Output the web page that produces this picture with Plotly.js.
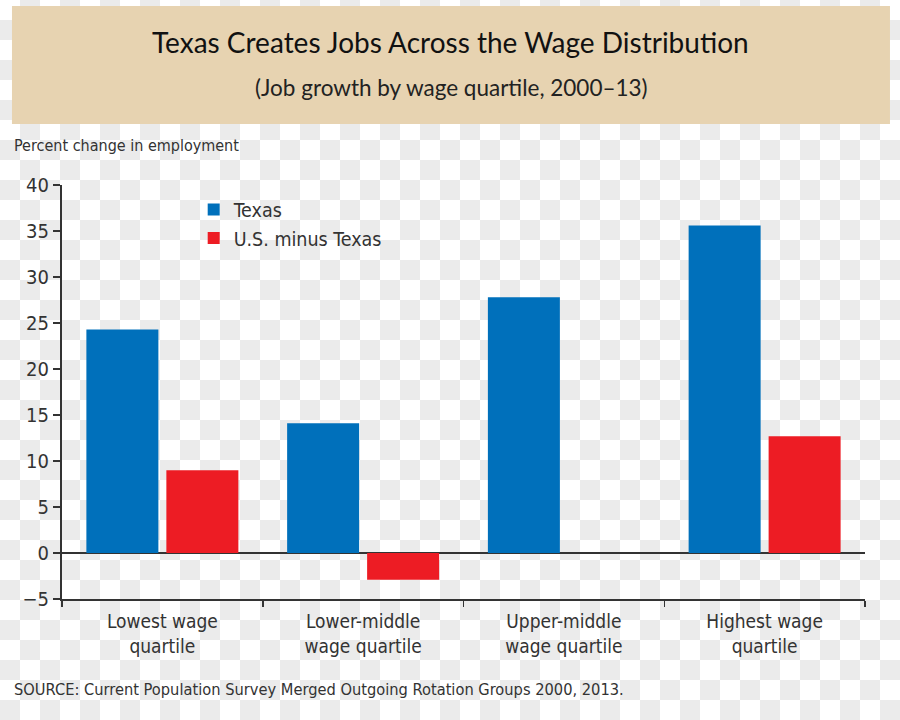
<!DOCTYPE html>
<html>
<head>
<meta charset="utf-8">
<script src="https://cdn.plot.ly/plotly-3.0.1.min.js"></script>
<style>
  html, body { margin: 0; padding: 0; }
  body {
    width: 900px; height: 720px;
    background: repeating-conic-gradient(#ebebeb 0% 25%, #ffffff 0% 50%) 0 0 / 40px 40px;
  }
  #chart { width: 900px; height: 720px; }
</style>
</head>
<body>
<div id="chart"></div>
<script>
// ---- data ----
const categories = ["Lowest wage quartile", "Lower-middle wage quartile", "Upper-middle wage quartile", "Highest wage quartile"];
const categoryLabels = ["Lowest wage<br>quartile", "Lower-middle<br>wage quartile", "Upper-middle<br>wage quartile", "Highest wage<br>quartile"];
const texasValues = [24.3, 14.1, 27.8, 35.6];
const usMinusTexasValues = [9.0, -2.9, null, 12.7];
const seriesNames = ["Texas", "U.S. minus Texas"];
const yTickValues = [-5, 0, 5, 10, 15, 20, 25, 30, 35, 40];

const titleText = "Texas Creates Jobs Across the Wage Distribution";
const subtitleText = "(Job growth by wage quartile, 2000–13)";
const yLabelText = "Percent change in employment";
const sourceText = "SOURCE: Current Population Survey Merged Outgoing Rotation Groups 2000, 2013.";

const narrow = '"Liberation Sans Narrow", "DejaVu Sans Condensed", Arial, sans-serif';
const titleFont = 'Lato, "Open Sans", sans-serif';
const ink = '#333333';

const traces = [
  { type: 'bar', name: seriesNames[0], x: categories, y: texasValues,
    marker: { color: '#0070bb' } },
  { type: 'bar', name: seriesNames[1], x: categories, y: usMinusTexasValues,
    marker: { color: '#ed1c24' } }
];

const layout = {
  width: 900, height: 720,
  paper_bgcolor: 'rgba(0,0,0,0)',
  plot_bgcolor: 'rgba(0,0,0,0)',
  margin: { l: 62, r: 35, t: 185, b: 121, pad: 0 },
  barmode: 'group',
  bargap: 0.203,
  bargroupgap: 0.1,
  showlegend: true,
  legend: {
    x: 0.164, y: 0.987, xanchor: 'left', yanchor: 'top',
    bgcolor: 'rgba(0,0,0,0)',
    font: { family: narrow, size: 19.5, color: ink },
    tracegroupgap: 0
  },
  xaxis: {
    type: 'category',
    range: [-0.5, 3.5],
    tickmode: 'array',
    tickvals: categories,
    ticktext: categoryLabels,
    tickson: 'boundaries',
    ticks: 'outside', ticklen: 6, tickwidth: 1.5, tickcolor: ink,
    ticklabelstandoff: 4,
    showline: true, linecolor: ink, linewidth: 2,
    showgrid: false,
    tickfont: { family: narrow, size: 19, color: ink }
  },
  yaxis: {
    range: [-5, 40],
    tickmode: 'array',
    tickvals: yTickValues,
    ticks: 'outside', ticklen: 7, tickwidth: 1.5, tickcolor: ink,
    showline: true, linecolor: ink, linewidth: 2,
    showgrid: false,
    zeroline: true, zerolinecolor: ink, zerolinewidth: 2,
    tickfont: { family: narrow, size: 20, color: ink }
  },
  shapes: [
    { type: 'rect', xref: 'paper', yref: 'paper', layer: 'below',
      x0: -0.0623, x1: 1.0311, y0: 1.1473, y1: 1.4324,
      fillcolor: '#e7d3b1', line: { width: 0 } }
  ],
  annotations: [
    { text: titleText, xref: 'paper', yref: 'paper', x: 0.4844, y: 1.345,
      xanchor: 'center', yanchor: 'middle', showarrow: false,
      font: { family: titleFont, size: 28, color: '#111111' } },
    { text: subtitleText, xref: 'paper', yref: 'paper', x: 0.4856, y: 1.2367,
      xanchor: 'center', yanchor: 'middle', showarrow: false,
      font: { family: titleFont, size: 22.5, color: '#222222' } },
    { text: yLabelText, xref: 'paper', yref: 'paper', x: -0.0623, y: 1.0966,
      xanchor: 'left', yanchor: 'middle', showarrow: false,
      font: { family: narrow, size: 16, color: ink } },
    { text: sourceText, xref: 'paper', yref: 'paper', x: -0.0623, y: -0.2198,
      xanchor: 'left', yanchor: 'middle', showarrow: false,
      font: { family: narrow, size: 16.3, color: ink } }
  ]
};

Plotly.newPlot('chart', traces, layout, { displayModeBar: false, staticPlot: true });
</script>
</body>
</html>
